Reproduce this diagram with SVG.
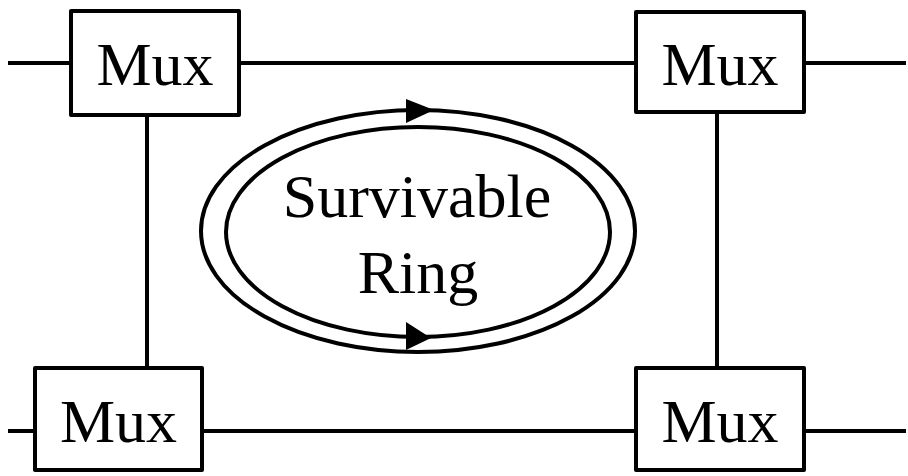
<svg xmlns="http://www.w3.org/2000/svg" width="908" height="476" viewBox="0 0 908 476">
  <style>
    .box { fill: #fff; stroke: #000; stroke-width: 4; stroke-linejoin: round; }
    .wire { fill: none; stroke: #000; stroke-width: 4; }
    .ring { fill: none; stroke: #000; stroke-width: 4; }
    .lbl { font-family: "Liberation Serif", "Times New Roman", serif; font-size: 62px; fill: #000; text-anchor: middle; }
  </style>
  <rect width="908" height="476" fill="#fff"/>

  <!-- links between multiplexers -->
  <g id="connectors">
    <line class="wire" x1="8" y1="63" x2="71" y2="63"/>
    <line class="wire" x1="239" y1="63" x2="636" y2="63"/>
    <line class="wire" x1="804" y1="63" x2="906" y2="63"/>
    <line class="wire" x1="8" y1="431" x2="35" y2="431"/>
    <line class="wire" x1="202" y1="431" x2="636" y2="431"/>
    <line class="wire" x1="804" y1="431" x2="906" y2="431"/>
    <line class="wire" x1="147" y1="115" x2="147" y2="368"/>
    <line class="wire" x1="717" y1="112" x2="717" y2="368"/>
  </g>

  <g id="mux-top-left">
    <rect class="box" x="71" y="11" width="168" height="104"/>
    <text class="lbl" x="155" y="85">Mux</text>
  </g>
  <g id="mux-top-right">
    <rect class="box" x="636" y="12" width="168" height="100"/>
    <text class="lbl" x="720" y="85">Mux</text>
  </g>
  <g id="mux-bottom-left">
    <rect class="box" x="35" y="368" width="167" height="102"/>
    <text class="lbl" x="118.5" y="442">Mux</text>
  </g>
  <g id="mux-bottom-right">
    <rect class="box" x="636" y="368" width="168" height="102"/>
    <text class="lbl" x="720" y="442">Mux</text>
  </g>

  <!-- dual counter-rotating ring -->
  <g id="ring">
    <ellipse class="ring" cx="418" cy="231" rx="217" ry="121"/>
    <ellipse class="ring" cx="418" cy="232" rx="192" ry="105"/>
    <polygon points="406,99 434,110 406,123" fill="#000"/>
    <polygon points="406,322 431,338 406,350" fill="#000"/>
    <text class="lbl" x="417" y="217">Survivable</text>
    <text class="lbl" x="418" y="293">Ring</text>
  </g>
</svg>
